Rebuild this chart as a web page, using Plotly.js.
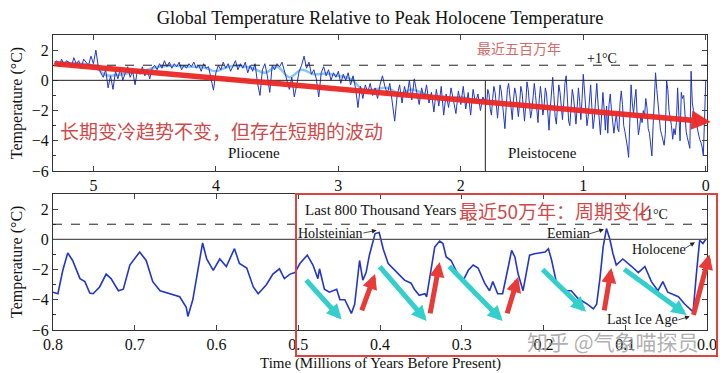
<!DOCTYPE html>
<html>
<head>
<meta charset="utf-8">
<script src="https://cdn.plot.ly/plotly-3.0.1.min.js"></script>
<style>html,body{margin:0;padding:0;background:#fff}#chart{width:720px;height:373px}</style>
</head>
<body>
<div id="chart"></div>
<script>
// ---- Top panel (last ~5.3 million years) ----
// Pliocene part: ages from 5.32 Myr in 0.02 Myr steps
var plioStart = 5.32, plioStep = 0.02;
var plioceneTemp = [
  1.1, 1.3, 0.9, 1.4, 1.0, 1.3, 1.2, 0.9, 1.5, 1.1, 1.3, 0.8, 1.4, 1.2, 1.0, 1.6, 1.1,
  2.0, 0.9,
  0.5, 0.2, 0.7, -0.5, 0.3, -0.6, 0.6, 0.1, 0.8, 0.0, 0.5, 0.9, 0.2, 0.6, -0.3, 0.7, 0.4, 0.9, 0.3, 0.7, 0.1, 0.8,
  1.0, 0.7, 1.1, 0.8, 1.3, 0.9, 1.2, 0.8, 1.1, 0.9,
  1.2, 0.7, 1.0, 0.8, 1.1, 0.9, 1.2, 0.8, 1.0, 0.6,
  1.1, 0.8, 0.9, 0.2, -0.65, 0.5, 1.0, 0.7, 1.2, 0.8,
  1.1, 0.6, 1.0, 1.3, 0.7, 1.1, 0.8, 1.2, 0.5, 1.0,
  0.6, 1.1, -0.2, -1.0, 0.7, 1.1, 0.3, -0.8,
  1.0, 0.7, 1.1, 0.9, 1.2, 0.6, 0.1, -0.6, 0.2, -1.1,
  -0.3, 0.6, 1.0, 1.6, 0.8, 1.2, 0.4, 0.7, 0.1, -1.1,
  0.5, 0.9, 0.3, 0.7, 0.0, 0.5, 0.2, 0.6, -0.2, 0.4,
  0.0, 0.5, -0.3, 0.3, -0.5, -1.8, -0.4, -1.2, -0.3, -0.8,
  -0.2, -1.0, -0.5, -1.2, -0.3, 0.3, -0.4, -0.9, -0.2, -1.4,
  -2.7, -1.0, -0.3, -1.5, -0.4, -1.1, 0.0, -1.3, 0.1, -0.8,
  -1.6, -0.5, -1.2, -0.3, -1.5, -0.8, -2.1, -0.6, -1.7, -0.4,
  -2.3, -0.9, -1.8, -0.5, -1.4, -2.2, -0.7, -1.6, -0.4, -1.9,
  -0.8, -2.3, -0.6, -1.5, -0.9, -2.0, -1.1, -1.4
];
// Pleistocene part: ages from 1.79 Myr in 0.01 Myr steps
var pleiStart = 1.79, pleiStep = 0.01;
var pleistoceneTemp = [
  -1.6, -0.6, -0.9, -1.9, -2.3, -1.2, -0.4, -0.8, -1.7, -2.5,
  -1.4, -0.3, -0.7, -1.5, -2.2, -3.2, -1.8, -0.6, -0.2, -1.1,
  -2.0, -2.6, -1.3, -0.5, -0.9, -1.8, -2.4, -1.5, -0.4, -0.8,
  -1.9, -2.7, -1.6, -0.1, -0.6, -1.4, -2.5, -2.0, -0.8, -0.2,
  -1.0, -2.1, -2.8, -1.3, -0.4, -1.2, -2.3, -1.7, -0.5, -0.9,
  -2.2, -3.3, -1.9, -0.7, 0.2, -1.0, -2.4, -2.9, -1.4, -0.3,
  -0.8, -2.0, -2.6, -1.5, -0.2, 0.3, -1.3, -2.7, -3.0, -1.6,
  -0.6, -1.1, -2.3, -2.9, -1.8, -0.5, -1.4, -2.6, -1.2, 0.4,
  -0.7, -2.1, -3.0, -2.4, -1.0, -0.3, -1.8, -3.2, -2.5, -0.9,
  -0.2, -1.5, -2.8, -3.6, -2.2, -0.8, -1.9, -3.3, -1.7, -3.5,
  -1.6, -0.9, -2.0, -2.6, -3.5, -2.8, -2.2, -3.2, -3.4, -1.5,
  -0.7, -1.6, -3.0, -3.4, -3.8, -4.4, -5.1, -3.2, -0.3, -1.5,
  -2.2, -1.3, -0.6, -2.4, -3.6, -3.1, -2.3, -2.8, -2.0, -2.4,
  -1.2, -1.8, -3.2, -3.5, -4.2, -5.0, -3.0, -0.8, 0.5, -0.6,
  -1.6, -2.9, -3.3, -3.6, -3.9, -4.3, -3.5, 0.0, -0.6, -2.0,
  -2.5, -3.0, -3.9, -3.2, -3.6, -2.8, -0.5, -2.5, -4.0, -0.8,
  -1.2, -1.0, -2.2, -3.4, -3.8, -4.2, -4.5, 0.6, -1.5, -2.0,
  -2.4, -2.7, -3.3, -3.6, -3.9, -4.1, -4.4, -5.0, -1.5, 0.0
];
// Smoothed Pliocene curve (light blue), ages 5.3 .. 1.8 every 0.1
var smoothStart = 5.3, smoothStep = 0.1;
var smoothTemp = [1.2, 1.15, 1.1, 0.95, 0.35, 0.35, 0.5, 0.6, 0.85, 0.95, 0.95, 0.9, 0.85, 0.6,
  0.9, 0.95, 0.8, 0.5, 0.9, 0.2, 0.7, 0.4, 0.45, 0.3, 0.1, -0.6, -0.6, -0.5, -0.9, -0.6,
  -0.9, -1.1, -1.2, -1.1, -1.3, -1.3];

// ---- Bottom panel (last 800 thousand years) ----
var recentAge = [0.800, 0.794, 0.788, 0.782, 0.776, 0.767, 0.761, 0.755, 0.751, 0.743,
  0.735, 0.729, 0.720, 0.714, 0.706, 0.694, 0.686, 0.678, 0.669, 0.657,
  0.645, 0.637, 0.635, 0.629, 0.623, 0.617, 0.612, 0.604, 0.596, 0.588,
  0.578, 0.572, 0.563, 0.555, 0.549, 0.539, 0.531, 0.523, 0.517, 0.510,
  0.504, 0.498, 0.489, 0.482, 0.476, 0.474, 0.468, 0.462, 0.453, 0.449,
  0.443, 0.435, 0.431, 0.425, 0.421, 0.417, 0.413, 0.406, 0.401, 0.396,
  0.390, 0.382, 0.370, 0.362, 0.358, 0.352, 0.345, 0.343, 0.339, 0.333,
  0.327, 0.323, 0.319, 0.313, 0.305, 0.298, 0.292, 0.286, 0.280, 0.272,
  0.266, 0.262, 0.256, 0.250, 0.243, 0.239, 0.235, 0.231, 0.225, 0.221,
  0.217, 0.211, 0.198, 0.194, 0.190, 0.184, 0.174, 0.166, 0.158, 0.146,
  0.139, 0.135, 0.131, 0.127, 0.123, 0.119, 0.115, 0.111, 0.103, 0.092,
  0.084, 0.076, 0.068, 0.060, 0.054, 0.048, 0.035, 0.027, 0.021, 0.017,
  0.013, 0.009, 0.005, 0.001];
var recentTemp = [-3.5, -3.6, -2.05, -0.9, -1.4, -2.6, -2.8, -3.55, -3.6, -3.15,
  -2.3, -2.6, -3.4, -3.3, -1.7, -0.84, -1.4, -2.8, -3.4, -3.6,
  -3.8, -4.5, -5.1, -4.0, -2.05, -0.24, -1.3, -2.05, -1.3, -1.8,
  -0.62, -1.6, -1.9, -3.15, -3.6, -3.0, -2.3, -1.95, -2.6, -2.3,
  -2.2, -1.6, -1.05, -1.7, -2.6, -1.95, -3.3, -3.5, -3.3, -4.0,
  -4.0, -4.9, -4.3, -1.4, -2.7, -2.2, -1.05, 0.38, 0.45, -0.65,
  -1.6, -2.05, -2.7, -2.9, -3.3, -3.7, -3.6, -3.8, -2.5, -0.5,
  -0.11, -0.28, -1.17, -1.4, -2.3, -2.7, -2.05, -1.7, -1.9, -2.9,
  -3.4, -2.8, -3.6, -3.6, -1.8, -0.73, -1.17, -2.3, -3.4, -2.2,
  -1.05, -0.95, -0.84, -0.62, -1.4, -2.9, -3.4, -3.4, -3.9, -4.3,
  -4.6, -4.3, -2.6, -0.5, 0.71, 0.04, -0.95, -1.7, -1.3, -1.8,
  -2.2, -1.8, -2.8, -3.4, -2.8, -3.5, -3.8, -4.3, -4.6, -4.8,
  -2.3, -0.06, -0.28, 0.04];

// Trend arrows in the bottom panel: [tailAge, tailTemp, headAge, headTemp]
var coolingArrows = [
  [0.492, -2.6, 0.447, -5.3],
  [0.402, -1.7, 0.343, -5.4],
  [0.317, -1.7, 0.250, -5.4],
  [0.203, -1.9, 0.148, -4.8],
  [0.103, -1.9, 0.025, -5.0]
];
var warmingArrows = [
  [0.423, -4.8, 0.406, -2.3],
  [0.339, -5.0, 0.327, -1.5],
  [0.245, -5.0, 0.231, -2.5],
  [0.126, -4.8, 0.117, -1.9],
  [0.017, -5.1, -0.003, -1.0]
];
var longTrend = [5.33, 1.1, -0.04, -2.75];

var topTicks = [5, 4, 3, 2, 1, 0];
var bottomTicks = [0.8, 0.7, 0.6, 0.5, 0.4, 0.3, 0.2, 0.1, 0];

// ---- build ----
function r3(v) { return Math.round(v * 1000) / 1000; }
var topX = [], topY = [];
plioceneTemp.forEach(function (t, i) { topX.push(r3(plioStart - plioStep * i)); topY.push(t); });
pleistoceneTemp.forEach(function (t, i) { topX.push(r3(pleiStart - pleiStep * i)); topY.push(t); });
var smX = smoothTemp.map(function (t, i) { return r3(smoothStart - smoothStep * i); });

var SERIF = '"Liberation Serif", "Times New Roman", serif';
var CJK = '"Noto Sans CJK SC", sans-serif';
var BLUE = '#2236c8';

var traces = [
  {x: smX, y: smoothTemp, xaxis: 'x', yaxis: 'y', mode: 'lines', line: {color: '#8cc4f2', width: 2.5, shape: 'spline'}, hoverinfo: 'skip'},
  {x: topX, y: topY, xaxis: 'x', yaxis: 'y', mode: 'lines', line: {color: BLUE, width: 1}},
  {x: recentAge, y: recentTemp, xaxis: 'x2', yaxis: 'y2', mode: 'lines', line: {color: BLUE, width: 1.6}}
];

function axisX(range, ticks, anchor, fmt) {
  return {range: range, tickvals: ticks, tickformat: fmt, anchor: anchor, ticks: 'inside', ticklen: 5,
    showline: true, mirror: 'ticks', linecolor: '#333', linewidth: 1, showgrid: false, zeroline: false,
    tickfont: {family: SERIF, size: 16, color: '#111'}, fixedrange: true};
}
function axisY(domain, anchor) {
  return {domain: domain, range: [-6, 3], tick0: 0, dtick: 2, anchor: anchor, ticks: 'inside', ticklen: 5,
    minor: {dtick: 1, ticks: 'inside', ticklen: 3, tickcolor: '#333'},
    showline: true, mirror: 'ticks', linecolor: '#333', linewidth: 1, showgrid: false, zeroline: false,
    tickfont: {family: SERIF, size: 16, color: '#111'}, fixedrange: true};
}

var shapes = [
  {type: 'line', xref: 'x domain', yref: 'y', x0: 0, x1: 1, y0: 1, y1: 1, line: {color: '#222', width: 1, dash: 'dash'}},
  {type: 'line', xref: 'x domain', yref: 'y', x0: 0, x1: 1, y0: 0, y1: 0, line: {color: '#222', width: 1}},
  {type: 'line', xref: 'x', yref: 'y', x0: 1.8, x1: 1.8, y0: 0, y1: -6, line: {color: '#222', width: 1}},
  {type: 'line', xref: 'x2 domain', yref: 'y2', x0: 0, x1: 1, y0: 1, y1: 1, line: {color: '#222', width: 1, dash: 'dash'}},
  {type: 'line', xref: 'x2 domain', yref: 'y2', x0: 0, x1: 1, y0: 0, y1: 0, line: {color: '#555', width: 1.2}},
  {type: 'rect', xref: 'paper', yref: 'paper', x0: 0.3716, x1: 1.0153, y0: 0.461, y1: -0.088, line: {color: '#d9443f', width: 2}}
];

function txt(x, y, xref, yref, text, size, color, family, xanchor) {
  return {x: x, y: y, xref: xref, yref: yref, text: text, showarrow: false, xanchor: xanchor || 'center', yanchor: 'middle',
    font: {family: family || SERIF, size: size, color: color || '#111'}};
}
function arrow(tx, ty, hx, hy, xr, yr, color, width, head, size) {
  return {x: hx, y: hy, ax: tx, ay: ty, xref: xr, yref: yr, axref: xr, ayref: yr, text: '', showarrow: true,
    arrowhead: head, arrowsize: size, arrowwidth: width, arrowcolor: color};
}

var ann = [];
// top texts
ann.push(txt(1.525, 2.17, 'x', 'y', '最近五百万年', 14, '#d46a6a', CJK));
ann.push(txt(0.85, 1.45, 'x', 'y', '+1°C', 14));
ann.push(txt(3.69, -4.8, 'x', 'y', 'Pliocene', 15));
ann.push(txt(1.33, -4.8, 'x', 'y', 'Pleistocene', 15));
ann.push(arrow(longTrend[0], longTrend[1], longTrend[2], longTrend[3], 'x', 'y', 'rgba(236,40,36,0.95)', 5.5, 2, 0.7));
ann.push(txt(5.29, -3.3, 'x', 'y', '长期变冷趋势不变，但存在短期的波动', 19, '#cf4a4a', CJK, 'left'));
// bottom arrows
coolingArrows.forEach(function (a) { ann.push(arrow(a[0], a[1], a[2], a[3], 'x2', 'y2', '#33cfcc', 5, 2, 0.6)); });
warmingArrows.forEach(function (a) { ann.push(arrow(a[0], a[1], a[2], a[3], 'x2', 'y2', '#e83a36', 5, 2, 0.6)); });
// bottom texts
ann.push(txt(0.087, 1.65, 'x2', 'y2', '+1°C', 14, '#111', SERIF, 'left'));
ann.push(txt(0.494, 1.92, 'x2', 'y2', 'Last 800 Thousand Years', 15, '#111', SERIF, 'left'));
ann.push(txt(0.306, 1.92, 'x2', 'y2', '最近50万年：周期变化', 19, '#cf4a4a', CJK, 'left'));
ann.push(txt(0.503, 0.4, 'x2', 'y2', 'Holsteinian', 14, '#111', SERIF, 'left'));
ann.push(arrow(0.422, 0.4, 0.404, 0.6, 'x2', 'y2', '#222', 0.8, 2, 1.2));
ann.push(txt(0.198, 0.4, 'x2', 'y2', 'Eemian', 14, '#111', SERIF, 'left'));
ann.push(arrow(0.146, 0.33, 0.126, 0.66, 'x2', 'y2', '#222', 0.8, 2, 1.2));
ann.push(txt(0.0942, -0.66, 'x2', 'y2', 'Holocene', 14, '#111', SERIF, 'left'));
ann.push(arrow(0.029, -0.66, 0.0147, -0.2, 'x2', 'y2', '#222', 0.8, 2, 1.2));
ann.push(txt(0.1248, -5.3, 'x2', 'y2', 'Last Ice Age', 14, '#111', SERIF, 'left'));
ann.push(arrow(0.037, -5.36, 0.021, -5.1, 'x2', 'y2', '#222', 0.8, 2, 1.2));
// axis titles
ann.push({x: -0.055, y: 0.769, xref: 'paper', yref: 'paper', text: 'Temperature (°C)', textangle: -90, showarrow: false,
  xanchor: 'center', yanchor: 'middle', font: {family: SERIF, size: 16, color: '#111'}});
ann.push({x: -0.055, y: 0.231, xref: 'paper', yref: 'paper', text: 'Temperature (°C)', textangle: -90, showarrow: false,
  xanchor: 'center', yanchor: 'middle', font: {family: SERIF, size: 16, color: '#111'}});
ann.push(txt(0.5, -0.112, 'paper', 'paper', 'Time (Millions of Years Before Present)', 15, '#111', SERIF));
// watermark
ann.push(txt(0.722, -0.037, 'paper', 'paper', '知乎 @气象喵探员', 21, 'rgba(150,150,150,0.75)', CJK, 'left'));

var layout = {
  width: 720, height: 373,
  margin: {l: 53, r: 13, t: 35, b: 43},
  paper_bgcolor: '#fff', plot_bgcolor: '#fff',
  showlegend: false,
  title: {text: 'Global Temperature Relative to Peak Holocene Temperature', x: 0.5, xref: 'paper', y: 0.952, yref: 'container',
    yanchor: 'middle', font: {family: SERIF, size: 18.5, color: '#111'}},
  xaxis: axisX([5.33, -0.01], topTicks, 'y'),
  yaxis: axisY([0.539, 1], 'x'),
  xaxis2: axisX([0.8, 0], bottomTicks, 'y2', '.1f'),
  yaxis2: axisY([0, 0.461], 'x2'),
  shapes: shapes,
  annotations: ann
};

Plotly.newPlot('chart', traces, layout, {displayModeBar: false, staticPlot: true});
</script>
</body>
</html>
